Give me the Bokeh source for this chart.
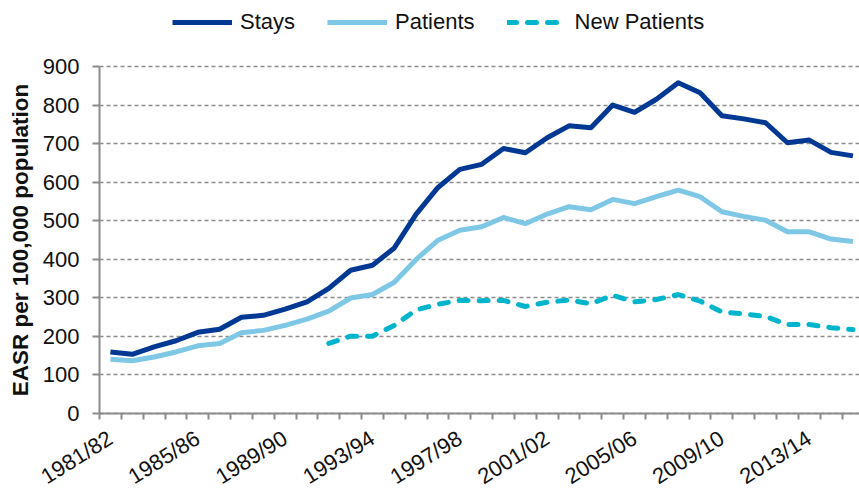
import math
from bokeh.plotting import figure
from bokeh.models import FixedTicker, Legend, LegendItem, Range1d
from bokeh.embed import file_html
from bokeh.resources import INLINE

years = ["1981/82", "1982/83", "1983/84", "1984/85", "1985/86", "1986/87", "1987/88",
         "1988/89", "1989/90", "1990/91", "1991/92", "1992/93", "1993/94", "1994/95",
         "1995/96", "1996/97", "1997/98", "1998/99", "1999/00", "2000/01", "2001/02",
         "2002/03", "2003/04", "2004/05", "2005/06", "2006/07", "2007/08", "2008/09",
         "2009/10", "2010/11", "2011/12", "2012/13", "2013/14", "2014/15", "2015/16"]

stays = [159, 153, 172, 188, 210, 218, 249, 254, 270, 289,
         324, 371, 384, 429, 517, 586, 633, 646, 687, 676,
         715, 746, 741, 800, 781, 815, 858, 832, 772, 764,
         754, 702, 709, 677, 668]

patients = [140, 136, 146, 159, 175, 181, 209, 215, 228, 244,
            265, 299, 308, 340, 399, 449, 475, 484, 508, 492,
            517, 536, 528, 555, 544, 562, 579, 562, 523, 511,
            501, 471, 471, 452, 446]

nan = float("nan")
new_patients = [nan, nan, nan, nan, nan, nan, nan, nan, nan, nan,
                181, 200, 200, 228, 268, 283, 293, 292, 293, 277,
                288, 294, 284, 306, 289, 295, 308, 291, 263, 258,
                251, 230, 230, 222, 217]

series_names = ["Stays", "Patients", "New Patients"]
label_every = 4
y_ticks = [0, 100, 200, 300, 400, 500, 600, 700, 800, 900]

x = list(range(len(years)))
label_pos = x[::label_every]

FONT = "Liberation Sans"
AXIS_COLOR = "#8c8c8c"
TEXT_COLOR = "#111111"
C_STAYS, C_PAT, C_NEW = "#003894", "#7EC8E6", "#00B5CB"

W, H = 859, 490
# plot area (value axis 0..900) sits at x 99..859, y 66..413 of the canvas;
# the frame covers the whole canvas so that the legend and the rotated
# category labels (drawn by fixed-location axes) are not clipped
AREA_L, AREA_T, AREA_B = 99, 66, 412.7
X_START, X_END = -0.5, 34.3
Y_MIN, Y_MAX = 0, 900
px_x = (W - AREA_L) / (X_END - X_START)
px_y = (AREA_B - AREA_T) / (Y_MAX - Y_MIN)
x_lo = X_START - AREA_L / px_x
y_hi = Y_MAX + AREA_T / px_y
y_lo = Y_MIN - (H - AREA_B) / px_y

p = figure(width=W, height=H, output_backend="svg", toolbar_location=None,
           x_range=Range1d(x_lo, X_END), y_range=Range1d(y_lo, y_hi),
           min_border_left=0, min_border_right=0, min_border_top=0, min_border_bottom=0)
p.outline_line_color = None
p.background_fill_color = "white"
p.border_fill_color = "white"

p.xgrid.visible = False
p.ygrid.ticker = FixedTicker(ticks=y_ticks)
p.ygrid.cross_bounds = (X_START, X_END)
p.ygrid.grid_line_color = AXIS_COLOR
p.ygrid.grid_line_dash = "4 3"
p.ygrid.grid_line_width = 1.3

yax = p.yaxis[0]
yax.fixed_location = X_START
yax.bounds = (Y_MIN, Y_MAX)
yax.ticker = FixedTicker(ticks=y_ticks)
yax.axis_line_color = AXIS_COLOR
yax.axis_line_width = 2
yax.major_tick_line_color = AXIS_COLOR
yax.major_tick_line_width = 2
yax.major_tick_out = 7
yax.major_tick_in = 0
yax.minor_tick_line_color = None
yax.major_label_text_font = FONT
yax.major_label_text_font_size = "22px"
yax.major_label_text_color = TEXT_COLOR
yax.major_label_standoff = 13
yax.axis_label = "EASR per 100,000 population"
yax.axis_label_text_font = FONT
yax.axis_label_text_font_size = "22.5px"
yax.axis_label_text_font_style = "bold"
yax.axis_label_text_color = TEXT_COLOR
yax.axis_label_standoff = 7

xax = p.xaxis[0]
xax.fixed_location = Y_MIN
xax.bounds = (X_START, X_END)
xax.ticker = FixedTicker(ticks=label_pos, minor_ticks=[i - 0.5 for i in range(len(years) + 1)])
xax.major_label_overrides = {i: years[i] for i in label_pos}
xax.axis_line_color = AXIS_COLOR
xax.axis_line_width = 2
xax.major_tick_line_color = None
xax.major_tick_out = 0
xax.major_tick_in = 0
xax.minor_tick_line_color = AXIS_COLOR
xax.minor_tick_line_width = 2
xax.minor_tick_out = 6
xax.minor_tick_in = 0
xax.major_label_orientation = math.radians(32)
xax.major_label_text_font = FONT
xax.major_label_text_font_size = "22px"
xax.major_label_text_color = TEXT_COLOR
xax.major_label_standoff = 17

r_np = p.line(x, new_patients, line_width=5, line_color=C_NEW,
              line_dash="9 11", line_cap="round", line_join="round")
r_pat = p.line(x, patients, line_width=5, line_color=C_PAT, line_join="round")
r_stays = p.line(x, stays, line_width=5, line_color=C_STAYS, line_join="round")

legend = Legend(items=[LegendItem(label=series_names[0], renderers=[r_stays]),
                       LegendItem(label=series_names[1], renderers=[r_pat]),
                       LegendItem(label=series_names[2], renderers=[r_np])],
                orientation="horizontal", location=(172, 455),
                glyph_width=60, glyph_height=24, label_height=24, label_standoff=8,
                spacing=32, padding=0, margin=0,
                border_line_color=None, background_fill_alpha=0,
                label_text_font=FONT, label_text_font_size="22px",
                label_text_color=TEXT_COLOR)
p.add_layout(legend)

open("out.html", "w").write(file_html(p, INLINE))
